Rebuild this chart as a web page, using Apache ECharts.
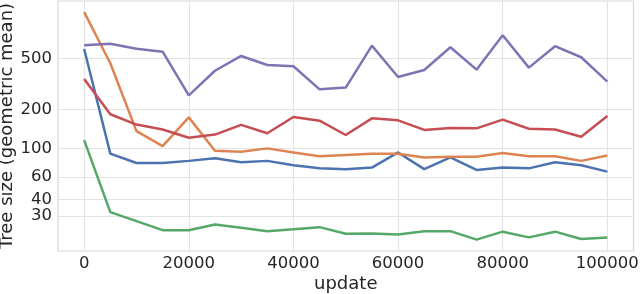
<!DOCTYPE html>
<html>
<head>
<meta charset="utf-8">
<script src="https://cdn.jsdelivr.net/npm/echarts@6/dist/echarts.min.js"></script>
<style>
html,body{margin:0;padding:0;background:#fff;}
#chart{width:640px;height:294px;}
</style>
</head>
<body>
<div id="chart"></div>
<script>
const updates = [0,5000,10000,15000,20000,25000,30000,35000,40000,45000,50000,55000,60000,65000,70000,75000,80000,85000,90000,95000,100000];
const xTicks = [0,20000,40000,60000,80000,100000];
const yTicks = [30,40,60,100,200,500];
const yLabelsMain = [30,60,100,200,500];
const yLabelsExtra = [40];
const blueVals   = [590,91,77,77,80,84,78,80,74,70,69,71,93,69,85,68,71,70,78,74,66];
const orangeVals = [1140,457,136,104,174,96,94,100,93,87,89,91,91,85,86,86,92,87,87,80,88];
const greenVals  = [116,32,27.3,23.2,23.2,25.7,24.2,22.8,23.6,24.5,21.8,21.9,21.5,22.8,22.8,19.6,22.6,20.4,22.6,19.8,20.4];
const redVals    = [345,184,153,140,121,128,152,131,175,164,127,171,165,139,144,143,167,142,140,123,178];
const purpleVals = [630,649,593,562,258,400,521,443,433,287,296,626,358,405,608,408,753,423,620,509,329];

const seriesDefs = [
  {name:'blue', vals: blueVals, color:'#4C72B0'},
  {name:'orange', vals: orangeVals, color:'#DD8452'},
  {name:'green', vals: greenVals, color:'#55A868'},
  {name:'red', vals: redVals, color:'#C44E52'},
  {name:'purple', vals: purpleVals, color:'#8172B3'}
];

const font = 'DejaVu Sans';
const txt = '#262626';
const gridCol = '#e3e3e3';
const Y_MIN = 16, Y_MAX = 1390;

const labelStyle = {fontFamily:font, fontSize:16.5, color:txt, margin:6,
  hideOverlap:false, showMinLabel:true, showMaxLabel:true, formatter:v=>String(v)};

const chart = echarts.init(document.getElementById('chart'), null, {renderer:'canvas'});
chart.setOption({
  animation:false,
  backgroundColor:'#fff',
  grid:{left:58, right:6.5, top:1, bottom:43, show:true, borderColor:'#d8d8d8', borderWidth:1.2,
        backgroundColor:'transparent', outerBoundsMode:'none', containLabel:false},
  xAxis:{
    type:'value', min:-5000, max:105000,
    name:'update', nameLocation:'middle', nameGap:24, nameMoveOverlap:false,
    nameTextStyle:{fontFamily:font, fontSize:18, color:txt},
    axisLine:{show:false},
    axisTick:{show:false, customValues:xTicks},
    axisLabel:Object.assign({}, labelStyle, {customValues:xTicks, margin:4.5}),
    splitLine:{show:true, lineStyle:{color:gridCol, width:1.2}}
  },
  yAxis:[{
    type:'log', min:Y_MIN, max:Y_MAX, position:'left',
    name:'Tree size (geometric mean)', nameLocation:'middle', nameGap:42, nameMoveOverlap:false,
    nameTextStyle:{fontFamily:font, fontSize:18, color:txt},
    axisLine:{show:false},
    axisTick:{show:false, customValues:yTicks},
    axisLabel:Object.assign({}, labelStyle, {customValues:yLabelsMain}),
    splitLine:{show:true, lineStyle:{color:gridCol, width:1.2}}
  },{
    type:'log', min:Y_MIN, max:Y_MAX, position:'left', offset:0,
    axisLine:{show:false},
    axisTick:{show:false, customValues:yLabelsExtra},
    axisLabel:Object.assign({}, labelStyle, {customValues:yLabelsExtra}),
    splitLine:{show:false}
  }],
  series: seriesDefs.map(s => ({
    name:s.name, type:'line', showSymbol:false, symbol:'none', yAxisIndex:0,
    data: updates.map((u,i)=>[u, s.vals[i]]),
    lineStyle:{color:s.color, width:2.5},
    itemStyle:{color:s.color}
  }))
});
</script>
</body>
</html>
